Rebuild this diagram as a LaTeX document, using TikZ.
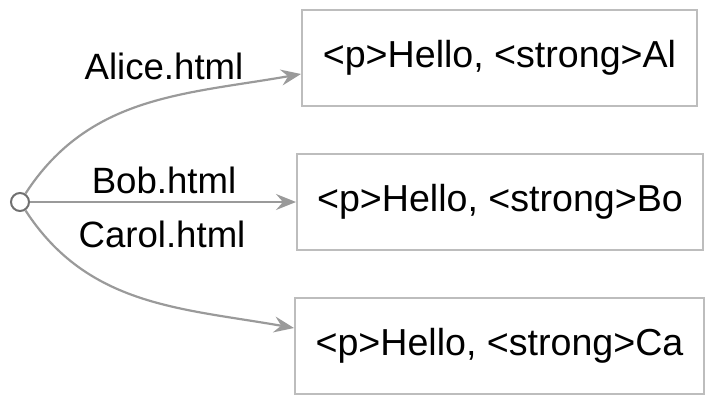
\documentclass[tikz,border=0pt]{standalone}
\usepackage{fontspec}
\setmainfont{Liberation Sans}
\usetikzlibrary{arrows.meta}
\definecolor{edgegray}{HTML}{9A9A9A}
\definecolor{boxgray}{HTML}{BDBDBD}
\definecolor{dotgray}{HTML}{707070}
\begin{document}
\begin{tikzpicture}[x=1pt, y=-1pt,
    page/.style={draw=boxgray, line width=2pt, minimum height=96pt, inner xsep=10pt,
        font=\fontsize{37.6}{40}\selectfont},
    file/.style={font=\fontsize{36.6}{40}\selectfont, inner sep=0pt},
    edge/.style={draw=edgegray, line width=2.2pt,
        -{Stealth[length=20pt, width=16pt, inset=7pt]}}]
    \useasboundingbox (0,0) rectangle (714,404);

    % Start point and pages
    \node[circle, draw=dotgray, fill=white, line width=2pt, minimum size=18pt, inner sep=0pt] (root) at (20,202) {};
    \node[page, minimum width=395pt] (alice) at (499.5,58) {<p>Hello, <strong>Al};
    \node[page, minimum width=406pt] (bob) at (500,202) {<p>Hello, <strong>Bo};
    \node[page, minimum width=409pt] (carol) at (499.5,346) {<p>Hello, <strong>Ca};

    % Edges with file names
    \draw[edge] (root) to[out=57, in=190] ([yshift=-16pt]alice.west);
    \draw[edge] (root) -- (bob.west);
    \draw[edge] (root) to[out=-57, in=170] ([yshift=18pt]carol.west);
    \node[file] (lalice) at (164,66) {Alice.html};
    \node[file] (lbob) at (164,180) {Bob.html};
    \node[file] (lcarol) at (162,234) {Carol.html};
\end{tikzpicture}
\end{document}
